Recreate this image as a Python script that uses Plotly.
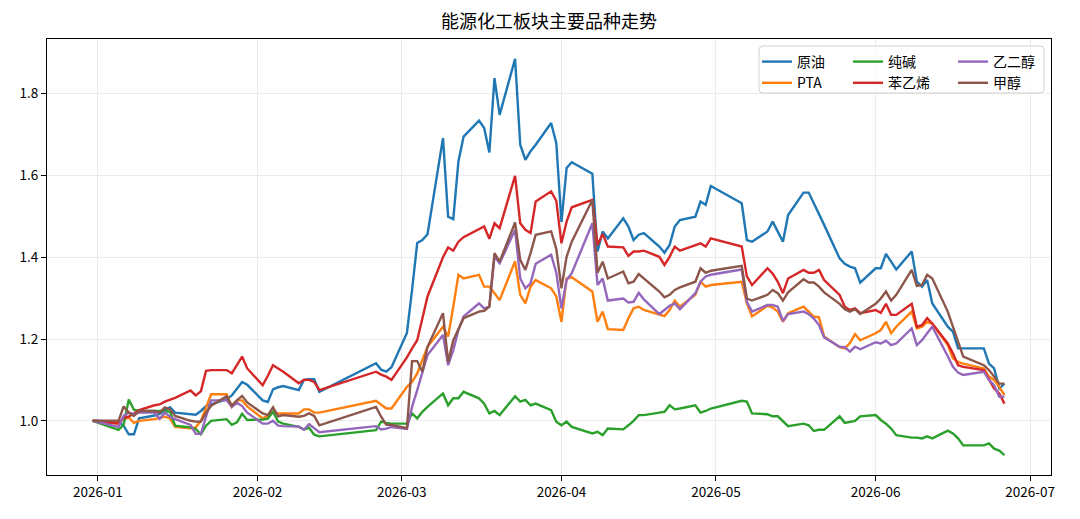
import plotly.graph_objects as go

# ---- data (trading days) ----
dates = [
    "2025-12-31",
    "2026-01-05", "2026-01-06", "2026-01-07", "2026-01-08", "2026-01-09",
    "2026-01-12", "2026-01-13", "2026-01-14", "2026-01-15", "2026-01-16",
    "2026-01-19", "2026-01-20", "2026-01-21", "2026-01-22", "2026-01-23",
    "2026-01-26", "2026-01-27", "2026-01-28", "2026-01-29", "2026-01-30",
    "2026-02-02", "2026-02-03", "2026-02-04", "2026-02-05", "2026-02-06",
    "2026-02-09", "2026-02-10", "2026-02-11", "2026-02-12", "2026-02-13",
    "2026-02-24", "2026-02-25", "2026-02-26", "2026-02-27",
    "2026-03-02", "2026-03-03", "2026-03-04", "2026-03-05", "2026-03-06",
    "2026-03-09", "2026-03-10", "2026-03-11", "2026-03-12", "2026-03-13",
    "2026-03-16", "2026-03-17", "2026-03-18", "2026-03-19", "2026-03-20",
    "2026-03-23", "2026-03-24", "2026-03-25", "2026-03-26", "2026-03-27",
    "2026-03-30", "2026-03-31",
    "2026-04-01", "2026-04-02", "2026-04-03",
    "2026-04-07", "2026-04-08", "2026-04-09", "2026-04-10",
    "2026-04-13", "2026-04-14", "2026-04-15", "2026-04-16", "2026-04-17",
    "2026-04-20", "2026-04-21", "2026-04-22", "2026-04-23", "2026-04-24",
    "2026-04-27", "2026-04-28", "2026-04-29", "2026-04-30",
    "2026-05-06", "2026-05-07", "2026-05-08",
    "2026-05-11", "2026-05-12", "2026-05-13", "2026-05-14", "2026-05-15",
    "2026-05-18", "2026-05-19", "2026-05-20", "2026-05-21", "2026-05-22",
    "2026-05-25", "2026-05-26", "2026-05-27", "2026-05-28", "2026-05-29",
    "2026-06-01", "2026-06-02", "2026-06-03", "2026-06-04", "2026-06-05",
    "2026-06-08", "2026-06-09", "2026-06-10", "2026-06-11", "2026-06-12",
    "2026-06-15", "2026-06-16", "2026-06-17", "2026-06-18",
    "2026-06-22", "2026-06-23", "2026-06-24", "2026-06-25", "2026-06-26",
]

crude = [
    1.0,
    0.998, 0.988, 0.967, 0.967, 1.006, 1.013, 1.017, 1.026, 1.033, 1.020,
    1.016, 1.015, 1.024, 1.036, 1.040, 1.053, 1.062, 1.080, 1.095, 1.088,
    1.050, 1.046, 1.077, 1.082, 1.085, 1.075, 1.100, 1.102, 1.102, 1.071,
    1.141, 1.125, 1.120, 1.131,
    1.215, 1.320, 1.435, 1.442, 1.456, 1.691, 1.499, 1.493, 1.634, 1.695,
    1.734, 1.716, 1.656, 1.838, 1.748, 1.885, 1.675, 1.638, 1.659, 1.675,
    1.728, 1.679,
    1.486, 1.618, 1.632, 1.604, 1.414, 1.463, 1.446,
    1.495, 1.475, 1.442, 1.455, 1.459, 1.426, 1.411, 1.430, 1.475, 1.491,
    1.499, 1.536, 1.528, 1.574,
    1.532, 1.442, 1.438, 1.463, 1.487, 1.463, 1.438, 1.503,
    1.558, 1.558, 1.532, 1.503, 1.479, 1.397, 1.384, 1.377, 1.373, 1.338,
    1.373, 1.373, 1.408, 1.389, 1.370, 1.414, 1.340, 1.328, 1.344, 1.287,
    1.230, 1.218, 1.177, 1.177, 1.177, 1.140, 1.128, 1.079, 1.091,
]

pta = [
    1.0,
    0.995, 1.004, 1.008, 0.995, 1.000, 1.004, 1.007, 1.010, 1.006, 0.985,
    0.982, 0.984, 1.000, 1.035, 1.065, 1.065, 1.034, 1.050, 1.050, 1.035,
    1.006, 1.012, 1.022, 1.018, 1.018, 1.018, 1.028, 1.028, 1.020, 1.020,
    1.049, 1.040, 1.030, 1.030,
    1.083, 1.095, 1.116, 1.149, 1.181, 1.230, 1.206, 1.279, 1.357, 1.348,
    1.357, 1.328, 1.328, 1.312, 1.295, 1.390, 1.308, 1.287, 1.328, 1.344,
    1.324, 1.304,
    1.242, 1.348, 1.351, 1.316, 1.242, 1.267, 1.224,
    1.222, 1.251, 1.275, 1.279, 1.271, 1.259, 1.256, 1.271, 1.294, 1.279,
    1.308, 1.340, 1.328, 1.332,
    1.340, 1.287, 1.255, 1.281, 1.277, 1.267, 1.242, 1.263,
    1.279, 1.267, 1.255, 1.253, 1.206, 1.180, 1.177, 1.190, 1.212, 1.197,
    1.214, 1.222, 1.242, 1.214, 1.230, 1.267, 1.226, 1.230, 1.242, 1.237,
    1.185, 1.153, 1.144, 1.140, 1.128, 1.108, 1.100, 1.083, 1.063,
]

soda_ash = [
    1.0,
    0.978, 0.990, 1.052, 1.027, 1.024, 1.024, 1.024, 1.024, 1.022, 0.988,
    0.984, 0.980, 0.967, 0.988, 1.000, 1.004, 0.990, 0.996, 1.017, 1.002,
    1.003, 1.005, 1.022, 0.998, 0.993, 0.985, 0.979, 0.983, 0.966, 0.962,
    0.977, 0.998, 0.995, 0.993,
    0.993, 1.018, 1.006, 1.022, 1.034, 1.067, 1.038, 1.055, 1.055, 1.071,
    1.055, 1.042, 1.018, 1.024, 1.014, 1.060, 1.047, 1.051, 1.038, 1.042,
    1.026, 0.998,
    0.989, 0.998, 0.985, 0.969, 0.973, 0.965, 0.981,
    0.979, 0.989, 1.000, 1.014, 1.014, 1.020, 1.022, 1.038, 1.028, 1.030,
    1.038, 1.020, 1.024, 1.030,
    1.049, 1.047, 1.018, 1.016, 1.011, 1.011, 0.998, 0.987,
    0.993, 0.989, 0.975, 0.978, 0.978, 1.011, 0.995, 0.998, 1.000, 1.011,
    1.014, 1.002, 0.993, 0.981, 0.965, 0.959, 0.959, 0.957, 0.962, 0.957,
    0.976, 0.969, 0.957, 0.940, 0.940, 0.945, 0.932, 0.927, 0.916,
]

styrene = [
    1.0,
    0.993, 1.007, 1.010, 1.018, 1.026, 1.038, 1.040, 1.047, 1.052, 1.056,
    1.074, 1.062, 1.072, 1.122, 1.124, 1.124, 1.116, 1.135, 1.157, 1.128,
    1.087, 1.110, 1.136, 1.128, 1.120, 1.092, 1.100, 1.100, 1.095, 1.075,
    1.120, 1.113, 1.108, 1.100,
    1.155, 1.177, 1.197, 1.250, 1.304, 1.400, 1.424, 1.416, 1.438, 1.449,
    1.467, 1.475, 1.445, 1.483, 1.471, 1.599, 1.483, 1.467, 1.459, 1.536,
    1.561, 1.538,
    1.434, 1.487, 1.522, 1.540, 1.430, 1.457, 1.426,
    1.424, 1.403, 1.414, 1.414, 1.416, 1.401, 1.381, 1.401, 1.426, 1.416,
    1.430, 1.434, 1.426, 1.446,
    1.426, 1.353, 1.332, 1.373, 1.360, 1.340, 1.312, 1.348,
    1.369, 1.362, 1.362, 1.369, 1.344, 1.308, 1.279, 1.271, 1.275, 1.263,
    1.271, 1.264, 1.286, 1.259, 1.259, 1.286, 1.230, 1.234, 1.251, 1.238,
    1.189, 1.165, 1.136, 1.132, 1.124, 1.100, 1.079, 1.067, 1.042,
]

meg = [
    1.0,
    0.985, 1.012, 1.020, 1.016, 1.020, 1.020, 1.005, 1.020, 1.010, 1.004,
    0.990, 0.968, 0.968, 1.010, 1.050, 1.050, 1.034, 1.044, 1.036, 1.020,
    0.993, 0.993, 1.000, 0.988, 0.987, 0.986, 0.978, 0.992, 0.981, 0.972,
    0.987, 0.979, 0.981, 0.985,
    0.980, 1.034, 1.075, 1.116, 1.161, 1.210, 1.136, 1.173, 1.222, 1.255,
    1.287, 1.275, 1.279, 1.401, 1.385, 1.467, 1.348, 1.324, 1.336, 1.384,
    1.406, 1.362,
    1.275, 1.344, 1.361, 1.483, 1.332, 1.348, 1.294,
    1.299, 1.289, 1.291, 1.313, 1.297, 1.261, 1.271, 1.281, 1.287, 1.273,
    1.312, 1.340, 1.353, 1.357,
    1.370, 1.291, 1.267, 1.283, 1.283, 1.279, 1.244, 1.261,
    1.267, 1.261, 1.250, 1.234, 1.204, 1.181, 1.180, 1.169, 1.181, 1.175,
    1.192, 1.189, 1.196, 1.185, 1.189, 1.226, 1.185, 1.197, 1.214, 1.230,
    1.158, 1.132, 1.118, 1.112, 1.120, 1.100, 1.087, 1.059, 1.059,
]

methanol = [
    1.0,
    1.000, 1.035, 1.020, 1.012, 1.024, 1.024, 1.020, 1.033, 1.028, 1.012,
    1.000, 0.998, 0.998, 1.020, 1.037, 1.060, 1.037, 1.050, 1.061, 1.045,
    1.018, 1.014, 1.033, 1.011, 1.014, 1.010, 1.012, 1.018, 1.012, 0.989,
    1.034, 1.010, 0.990, 0.990,
    0.982, 1.146, 1.146, 1.120, 1.181, 1.263, 1.144, 1.197, 1.226, 1.251,
    1.267, 1.269, 1.279, 1.410, 1.389, 1.485, 1.393, 1.369, 1.410, 1.455,
    1.463, 1.420,
    1.324, 1.401, 1.438, 1.540, 1.362, 1.389, 1.348,
    1.365, 1.336, 1.340, 1.359, 1.348, 1.316, 1.302, 1.308, 1.320, 1.326,
    1.340, 1.373, 1.362, 1.367,
    1.379, 1.299, 1.294, 1.308, 1.320, 1.312, 1.294, 1.314,
    1.346, 1.338, 1.338, 1.328, 1.314, 1.286, 1.273, 1.267, 1.273, 1.261,
    1.286, 1.299, 1.316, 1.294, 1.308, 1.369, 1.330, 1.332, 1.357, 1.348,
    1.267, 1.230, 1.193, 1.157, 1.136, 1.124, 1.108, 1.091, 1.091,
]

names = ["原油", "PTA", "纯碱", "苯乙烯", "乙二醇", "甲醇"]
values = [crude, pta, soda_ash, styrene, meg, methanol]
colors = ["#1f77b4", "#ff7f0e", "#2ca02c", "#d62728", "#9467bd", "#8c564b"]
legend_ids = ["legend", "legend", "legend2", "legend2", "legend3", "legend3"]

x_ticks = ["2026-01-01", "2026-02-01", "2026-03-01", "2026-04-01",
           "2026-05-01", "2026-06-01", "2026-07-01"]
x_ticktext = ["2026-01", "2026-02", "2026-03", "2026-04", "2026-05", "2026-06", "2026-07"]
y_ticks = [1.0, 1.2, 1.4, 1.6, 1.8]
y_ticktext = ["1.0", "1.2", "1.4", "1.6", "1.8"]
title = "能源化工板块主要品种走势"

# ---- layout geometry (pixels) ----
W, H = 1080, 519
L, R, T, B = 47, 1051, 39, 475
FONT = "Noto Sans CJK SC, Noto Sans, sans-serif"


def px_x(p):
    return (p - L) / (R - L)


def px_y(p):
    return (B - p) / (B - T)


fig = go.Figure()
for n, v, c, lg in zip(names, values, colors, legend_ids):
    fig.add_trace(go.Scatter(
        x=dates, y=v, mode="lines", name=n,
        line=dict(color=c, width=2.4),
        legend=lg,
    ))

axis_common = dict(
    showline=True, linecolor="black", linewidth=1, mirror=True,
    ticks="outside", ticklen=5, tickwidth=1, tickcolor="black",
    showgrid=True, gridcolor="#ebebeb", gridwidth=1,
    zeroline=False,
    tickfont=dict(family=FONT, size=13.5, color="black"),
)

fig.update_layout(
    width=W, height=H,
    margin=dict(l=L, r=W - R, t=T, b=H - B, pad=0),
    paper_bgcolor="white", plot_bgcolor="white",
    font=dict(family=FONT, size=13, color="black"),
    title=dict(text=title, x=(L + R) / 2 / W, xanchor="center",
               y=1 - 22 / H, yanchor="middle",
               font=dict(family=FONT, size=18, color="black")),
    xaxis=dict(type="date", range=["2025-12-22 03:00", "2026-07-05 01:00"],
               tickvals=x_ticks, ticktext=x_ticktext, **axis_common),
    yaxis=dict(range=[0.8675, 1.9335], tickvals=y_ticks, ticktext=y_ticktext,
               **axis_common),
    showlegend=True,
)

leg_common = dict(orientation="v", bgcolor="rgba(0,0,0,0)", borderwidth=0,
                  font=dict(family=FONT, size=14, color="black"),
                  xanchor="left", yanchor="top", tracegroupgap=0)
fig.update_layout(
    legend=dict(x=px_x(757), y=px_y(46), **leg_common),
    legend2=dict(x=px_x(848), y=px_y(46), **leg_common),
    legend3=dict(x=px_x(953), y=px_y(46), **leg_common),
)

# legend frame (rounded rectangle)
x0, x1, y0, y1 = px_x(759), px_x(1044), px_y(46), px_y(93)
rx, ry = 4 / (R - L), 4 / (B - T)
path = (f"M{x0+rx},{y0} L{x1-rx},{y0} Q{x1},{y0} {x1},{y0-ry} "
        f"L{x1},{y1+ry} Q{x1},{y1} {x1-rx},{y1} L{x0+rx},{y1} "
        f"Q{x0},{y1} {x0},{y1+ry} L{x0},{y0-ry} Q{x0},{y0} {x0+rx},{y0} Z")
fig.add_shape(type="path", path=path, xref="paper", yref="paper",
              line=dict(color="#d0d0d0", width=1),
              fillcolor="rgba(255,255,255,0.8)", layer="above")

fig.write_html("out.html")
